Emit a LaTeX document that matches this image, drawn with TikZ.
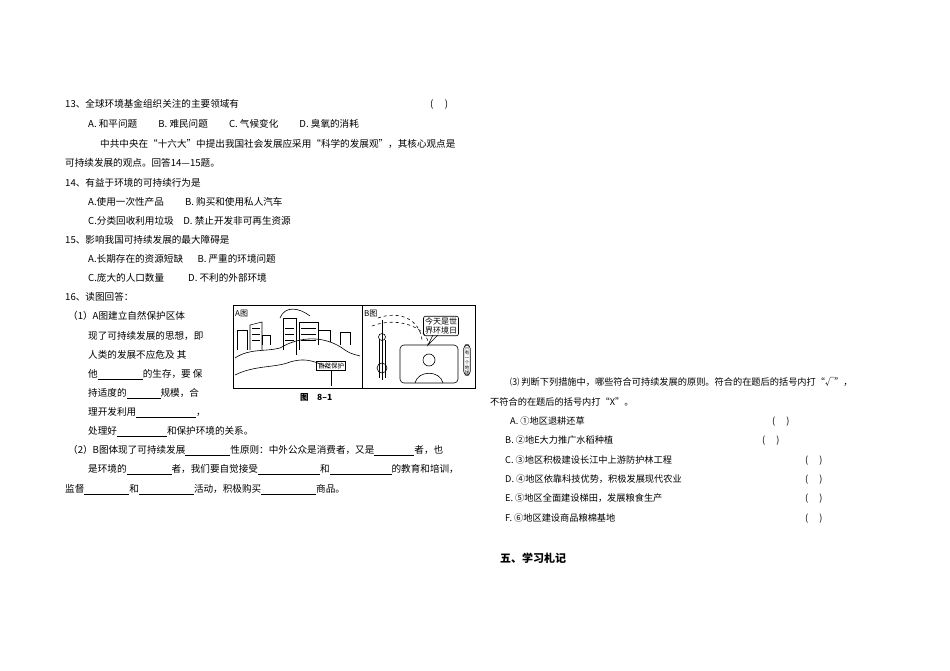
\documentclass[tikz,border=0pt]{standalone}
\usepackage{fontspec}
\setmainfont{Noto Sans CJK SC}
\newcommand{\bl}[1]{\rule[-2pt]{#1pt}{0.5pt}}
\begin{document}
\begin{tikzpicture}[x=1pt,y=-1pt,
  t/.style={anchor=base west,inner sep=0pt,font=\fontsize{9.6}{10}\selectfont},
  tr/.style={anchor=base west,inner sep=0pt,font=\fontsize{9.2}{10}\selectfont},
  ln/.style={line width=0.6pt}]
\useasboundingbox (0,0) rectangle (950,671);
\fill[white] (0,0) rectangle (950,671);
\node[t] (l1) at (65,108) {13、全球环境基金组织关注的主要领域有};
\node[t] (p1) at (430,108) {(\hspace{1.2em})};
\node[t] (l2) at (88,128) {A. 和平问题\hspace{2.2em}B. 难民问题\hspace{2.2em}C. 气候变化\hspace{2.2em}D. 臭氧的消耗};
\node[t] (l3) at (100,148) {中共中央在“十六大”中提出我国社会发展应采用“科学的发展观”，其核心观点是};
\node[t] (l4) at (65,167) {可持续发展的观点。回答14—15题。};
\node[t] (l5) at (65,186) {14、有益于环境的可持续行为是};
\node[t] (l6) at (88,205) {A.使用一次性产品\hspace{2.2em}B. 购买和使用私人汽车};
\node[t] (l7) at (88,224) {C.分类回收利用垃圾\hspace{1em}D. 禁止开发非可再生资源};
\node[t] (l8) at (65,243) {15、影响我国可持续发展的最大障碍是};
\node[t] (l9) at (88,262) {A.长期存在的资源短缺\hspace{1.5em}B. 严重的环境问题};
\node[t] (l10) at (88,281) {C.庞大的人口数量\hspace{2.5em}D. 不利的外部环境};
\node[t] (l11) at (65,300) {16、读图回答：};
\node[t] (l12) at (68,319) {（1）A图建立自然保护区体};
\node[t] (l13) at (88,339) {现了可持续发展的思想，即};
\node[t] (l14) at (88,358) {人类的发展不应危及\ 其};
\node[t] (l15) at (88,377) {他\bl{45}的生存，要\ 保};
\node[t] (l16) at (88,396) {持适度的\bl{34}规模，合};
\node[t] (l17) at (88,415) {理开发利用\bl{60}，};
\node[t] (l18) at (88,434) {处理好\bl{50}和保护环境的关系。};
\node[t] (l19) at (68,453) {（2）B图体现了可持续发展\bl{45}性原则：中外公众是消费者，又是\bl{40}者，也};
\node[t] (l20) at (88,472) {是环境的\bl{45}者，我们要自觉接受\bl{62}和\bl{62}的教育和培训，};
\node[t] (l21) at (65,492) {监督\bl{45}和\bl{55}活动，积极购买\bl{55}商品。};
% right column
\node[tr] (r1) at (510,385) {⑶ 判断下列措施中，哪些符合可持续发展的原则。符合的在题后的括号内打“√”，};
\node[tr] (r2) at (490,405) {不符合的在题后的括号内打“X”。};
\node[tr] (r3) at (510,424) {A. ①地区退耕还草};
\node[tr] (q3) at (772,424) {(\hspace{1.2em})};
\node[tr] (r4) at (505,443) {B. ②地E大力推广水稻种植};
\node[tr] (q4) at (762,443) {(\hspace{1.2em})};
\node[tr] (r5) at (505,463) {C. ③地区积极建设长江中上游防护林工程};
\node[tr] (q5) at (805,463) {(\hspace{1.2em})};
\node[tr] (r6) at (505,482) {D. ④地区依靠科技优势，积极发展现代农业};
\node[tr] (q6) at (805,482) {(\hspace{1.2em})};
\node[tr] (r7) at (505,501) {E. ⑤地区全面建设梯田，发展粮食生产};
\node[tr] (q7) at (805,501) {(\hspace{1.2em})};
\node[tr] (r8) at (505,521) {F. ⑥地区建设商品粮棉基地};
\node[tr] (q8) at (805,521) {(\hspace{1.2em})};
\node[t,font=\fontsize{11}{12}\selectfont\bfseries] (h5) at (500,562) {五、学习札记};
% figure
\draw[line width=1pt] (233,305) rectangle (475,388);
\draw[line width=1pt] (362,305) -- (362,388);
\node[t,font=\fontsize{8}{9}\selectfont] (fa) at (235,316) {A图};
\node[t,font=\fontsize{8}{9}\selectfont] (fb) at (364,316) {B图};
\node[t,font=\fontsize{8.5}{9}\selectfont\bfseries] (cap) at (300,400) {图\quad 8--1};
% A picture: buildings
\draw[ln] (237,350) -- (237,330) -- (247,330) -- (247,350);
\draw[ln] (250,350) -- (250,325) -- (262,322) -- (262,350);
\draw[ln] (262,345) -- (262,335) -- (270,335) -- (270,345);
\draw[ln] (283,350) -- (283,318) -- (296,318) -- (296,355);
\draw[ln] (299,350) -- (299,322) -- (318,322) -- (318,345);
\draw[ln] (318,345) -- (318,330) -- (330,330) -- (330,342);
\draw[ln] (340,345) -- (340,332) -- (350,332) -- (350,345);
\foreach \yy in {328,334,340} {\draw[thin] (285,\yy) -- (294,\yy); \draw[thin] (301,\yy) -- (316,\yy); \draw[thin] (252,\yy) -- (260,\yy);}
\draw[ln] (280,318) .. controls (285,305) and (300,308) .. (310,316);
\draw[ln] (235,358) .. controls (250,348) and (265,352) .. (280,348) .. controls (300,336) and (325,335) .. (345,350) .. controls (352,355) and (358,355) .. (360,356);
\draw[ln] (235,375) .. controls (255,365) and (275,368) .. (290,362) .. controls (310,356) and (320,365) .. (330,368);
\node[draw,ln,inner sep=1.5pt,font=\fontsize{6.5}{7}\selectfont] (sign) at (331,366) {自然保护};
\draw[ln] (331,371) -- (331,386);
% B picture
\draw[ln] (382,320) -- (382,380);
\draw[ln] (379,340) -- (379,378); \draw[ln] (385,340) -- (385,378);
\draw[ln] (382,337) circle (3.5);
\draw[ln] (382,368) circle (5);
\draw[ln,dashed] (378,318) .. controls (400,310) and (420,320) .. (422,340);
\draw[ln,dashed] (372,326) .. controls (400,315) and (430,330) .. (428,345);
\node[draw,ln,rounded corners=2pt,inner sep=1.5pt,align=center,font=\fontsize{8}{9}\selectfont] (bub) at (441,326) {今天是世\\界环境日};
\draw[ln] (433,335) -- (428,345) -- (438,335);
\draw[ln,rounded corners=4pt] (400,345) rectangle (458,383);
\draw[ln] (429,360) circle (6);
\draw[ln] (415,383) .. controls (418,370) and (440,370) .. (443,383);
\node[draw,ln,rounded corners=4pt,inner sep=1pt,font=\fontsize{4.5}{5}\selectfont,align=center] (earth) at (467,360) {只\\有\\一\\个\\地\\球};
\end{tikzpicture}
\end{document}
